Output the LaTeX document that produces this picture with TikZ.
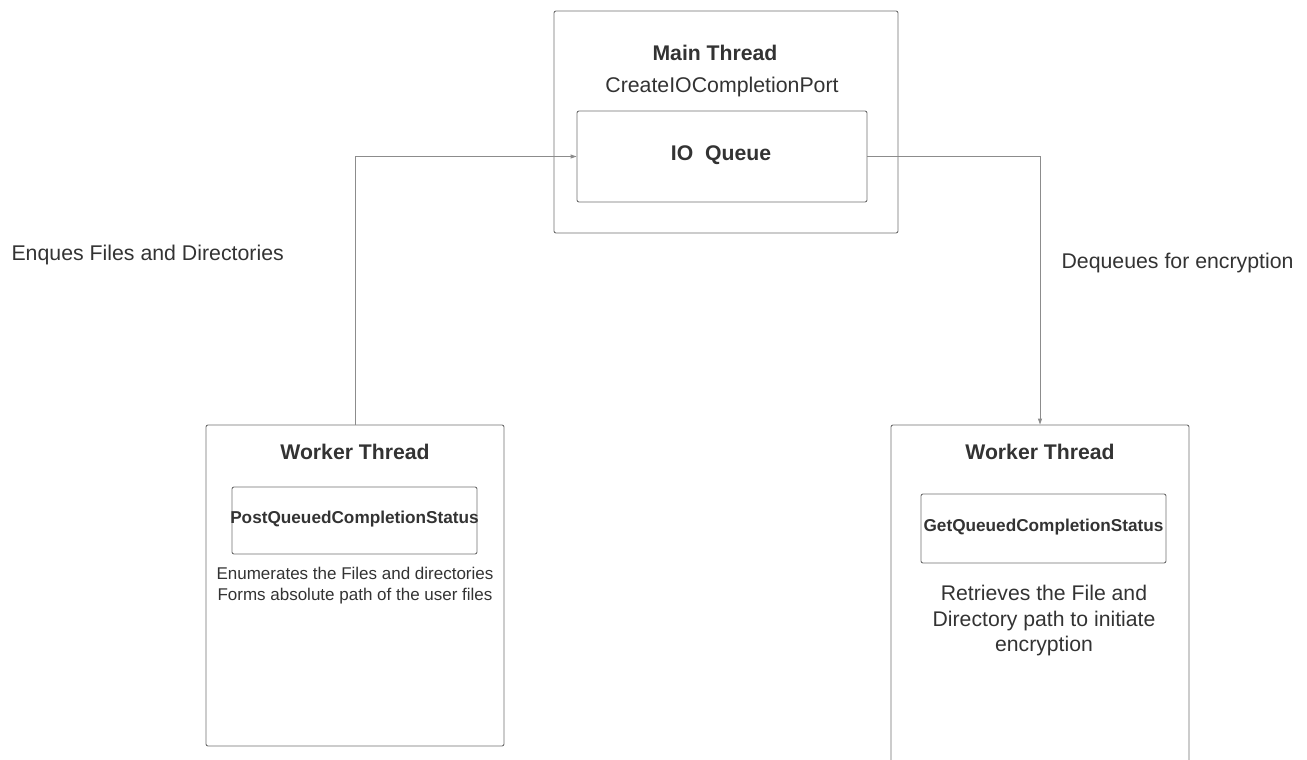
\documentclass[tikz,border=0pt]{standalone}
\usepackage{fontspec}
\setmainfont{Liberation Sans}
\usetikzlibrary{arrows.meta}
\definecolor{boxline}{HTML}{6E6E6E}
\definecolor{wireline}{HTML}{8C8C8C}
\definecolor{inktext}{HTML}{333333}
\tikzset{
  threadbox/.style={rectangle, draw=boxline, rounded corners=2pt, line width=0.9pt, inner sep=0pt},
  callbox/.style={rectangle, draw=boxline, rounded corners=2pt, line width=0.9pt, inner sep=0pt},
  title/.style={font=\fontsize{21.2}{25}\selectfont\bfseries, text=inktext},
  callname/.style={font=\fontsize{17.2}{20}\selectfont\bfseries, text=inktext},
  plain/.style={font=\fontsize{21.3}{25}\selectfont, text=inktext},
  note/.style={font=\fontsize{17}{21}\selectfont, text=inktext, align=center},
  bignote/.style={font=\fontsize{21.2}{25.5}\selectfont, text=inktext, align=center},
  link/.style={draw=wireline, line width=0.9pt, -{Triangle[length=6pt,width=4pt]}}
}
\begin{document}
\begin{tikzpicture}[x=1pt,y=-1pt]
  \useasboundingbox (0,0) rectangle (1307,760);
  % main thread
  \node[threadbox, minimum width=344pt, minimum height=222pt] (main) at (726,122) {};
  \node[title] (maintitle) at (715,52.5) {Main Thread};
  \node[plain] (mainport) at (722,87) {CreateIOCompletionPort};
  \node[callbox, minimum width=290pt, minimum height=91pt] (ioq) at (722,156.5) {};
  \node[title] (ioqtext) at (721,155) {IO\ \ Queue};

  % left worker
  \node[threadbox, minimum width=298pt, minimum height=321pt] (lw) at (355,585.5) {};
  \node[title] (lwtitle) at (355,452) {Worker Thread};
  \node[callbox, minimum width=245pt, minimum height=67pt] (post) at (354.5,520.5) {};
  \node[callname] (posttext) at (354.5,519.5) {PostQueuedCompletionStatus};
  \node[note] (lwnote) at (355,585.5) {Enumerates the Files and directories\\Forms absolute path of the user files};

  % right worker
  \node[threadbox, minimum width=298pt, minimum height=345pt] (rw) at (1040,597.5) {};
  \node[title] (rwtitle) at (1040,452) {Worker Thread};
  \node[callbox, minimum width=245pt, minimum height=69pt] (get) at (1043.5,528.5) {};
  \node[callname] (gettext) at (1043.5,527.5) {GetQueuedCompletionStatus};
  \node[bignote] (rwnote) at (1044,621) {Retrieves the File and\\Directory path to initiate\\encryption};

  % edge labels
  \node[plain, anchor=west] (enq) at (8,255) {Enques Files and Directories};
  \node[plain, anchor=west] (deq) at (1058,263) {Dequeues for encryption};

  \draw[link] (lw.north) |- (ioq.west);
  \draw[link] (ioq.east) -| (rw.north);
\end{tikzpicture}
\end{document}
